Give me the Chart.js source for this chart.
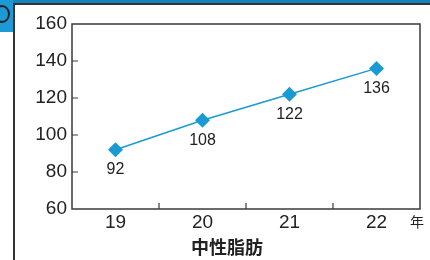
<!DOCTYPE html>
<html>
<head>
<meta charset="utf-8">
<script src="https://cdn.jsdelivr.net/npm/chart.js@4"></script>
<style>
    html, body { margin: 0; padding: 0; background: #fff; }
    #wrap { position: relative; width: 430px; height: 260px; overflow: hidden; }
    .bar-top { position: absolute; left: 0; top: 0; width: 430px; height: 3px; background: #1582bd; }
    .line-top { position: absolute; left: 13px; top: 3px; width: 417px; height: 2px; background: #333; }
    .tab { position: absolute; left: 0; top: 0; width: 13px; height: 32px; background: #1c9ad6; }
    .tab-icon { position: absolute; left: -6px; top: 5px; width: 12px; height: 14px; border: 2px solid #222; border-radius: 50%; }
    .line-left { position: absolute; left: 13px; top: 3px; width: 2px; height: 257px; background: #333; }
    canvas { position: absolute; left: 0; top: 0; }
</style>
</head>
<body>
<div id="wrap">
    <div class="bar-top"></div>
    <div class="tab"><div class="tab-icon"></div></div>
    <div class="line-top"></div>
    <div class="line-left"></div>
    <canvas id="grafik" width="430" height="260"></canvas>
</div>
<script>
const kategori = ['19', '20', '21', '22'];
const nilai = [92, 108, 122, 136];
const tickY = [60, 80, 100, 120, 140, 160];
const judulX = '中性脂肪';
const satuanX = '年';

const warnaGaris = '#1a9ad2';
const warnaTeks = '#222';
const fontLatin = '"Liberation Sans", Arial, sans-serif';
const fontCJK = '"Noto Sans CJK JP", sans-serif';

// frame, inner ticks, value labels, title
const pluginGambar = {
    id: 'pluginGambar',
    beforeDatasetsDraw(chart) {
        const ctx = chart.ctx;
        const ca = chart.chartArea;
        const sx = chart.scales.x;
        const sy = chart.scales.y;
        ctx.save();
        ctx.strokeStyle = '#3a3a3a';
        ctx.lineWidth = 1.5;
        ctx.strokeRect(ca.left, ca.top, ca.right - ca.left, ca.bottom - ca.top);

        ctx.lineWidth = 1.2;
        ctx.beginPath();
        tickY.slice(1, -1).forEach(v => {
            const y = sy.getPixelForValue(v);
            ctx.moveTo(ca.left, y);
            ctx.lineTo(ca.left + 6, y);
        });
        for (let i = 0; i < kategori.length - 1; i++) {
            const x = (sx.getPixelForValue(i) + sx.getPixelForValue(i + 1)) / 2;
            ctx.moveTo(x, ca.bottom);
            ctx.lineTo(x, ca.bottom - 6);
        }
        ctx.stroke();
        ctx.restore();
    },
    afterDraw(chart) {
        const ctx = chart.ctx;
        const ca = chart.chartArea;
        const meta = chart.getDatasetMeta(0);
        ctx.save();
        ctx.fillStyle = warnaTeks;
        ctx.textAlign = 'center';
        ctx.textBaseline = 'middle';
        ctx.font = '16px ' + fontLatin;
        meta.data.forEach((pt, i) => {
            ctx.fillText(String(nilai[i]), pt.x, pt.y + 20);
        });

        ctx.font = '14px ' + fontCJK;
        ctx.fillText(satuanX, 417, 222);

        ctx.font = 'bold 18px ' + fontCJK;
        ctx.fillText(judulX, 227, 247);
        ctx.restore();
    }
};

new Chart(document.getElementById('grafik'), {
    type: 'line',
    data: {
        labels: kategori,
        datasets: [{
            data: nilai,
            borderColor: warnaGaris,
            borderWidth: 1.5,
            backgroundColor: warnaGaris,
            pointStyle: 'rectRot',
            pointRadius: 7.5,
            pointBorderWidth: 0,
            pointBackgroundColor: warnaGaris,
            tension: 0
        }]
    },
    options: {
        responsive: false,
        animation: false,
        layout: { padding: { left: 0, right: 10, top: 24, bottom: 0 } },
        plugins: {
            legend: { display: false },
            tooltip: { enabled: false }
        },
        scales: {
            x: {
                type: 'category',
                offset: true,
                grid: { display: false, drawTicks: false },
                border: { display: false },
                ticks: {
                    color: warnaTeks,
                    padding: 2,
                    maxRotation: 0,
                    font: { family: fontLatin, size: 19 }
                },
                afterFit(s) { s.height = 51; }
            },
            y: {
                min: 60,
                max: 160,
                grid: { display: false, drawTicks: false },
                border: { display: false },
                ticks: {
                    stepSize: 20,
                    color: warnaTeks,
                    padding: 5,
                    font: { family: fontLatin, size: 19 }
                },
                afterFit(s) { s.width = 72; }
            }
        }
    },
    plugins: [pluginGambar]
});
</script>
</body>
</html>
